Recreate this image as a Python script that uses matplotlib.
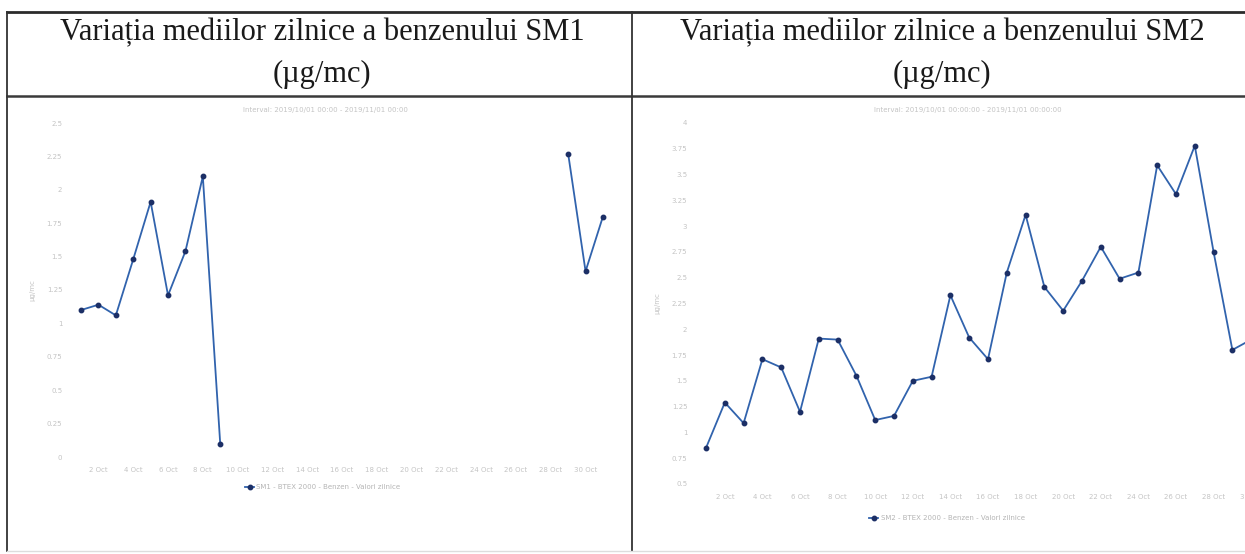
import numpy as np
import matplotlib
matplotlib.use("Agg")
import matplotlib.pyplot as plt

W, H = 1245, 554

titles = ["Variația mediilor zilnice a benzenului SM1",
          "Variația mediilor zilnice a benzenului SM2"]
unit_line = "(µg/mc)"
subtitle_sm1 = "Interval: 2019/10/01 00:00 - 2019/11/01 00:00"
subtitle_sm2 = "Interval: 2019/10/01 00:00:00 - 2019/11/01 00:00:00"
legend_sm1 = "SM1 - BTEX 2000 - Benzen - Valori zilnice"
legend_sm2 = "SM2 - BTEX 2000 - Benzen - Valori zilnice"
ylabel = "µg/mc"

days_sm1 = list(range(1, 32))
nan = float("nan")
sm1 = [1.10, 1.14, 1.06, 1.48, 1.91, 1.21, 1.54, 2.10, 0.10] + [nan] * 19 + [2.27, 1.39, 1.80]

days_sm2 = list(range(1, 31))
sm2 = [0.85, 1.29, 1.09, 1.71, 1.63, 1.20, 1.91, 1.90, 1.55, 1.12,
       1.16, 1.50, 1.54, 2.33, 1.92, 1.71, 2.55, 3.11, 2.41, 2.18,
       2.47, 2.80, 2.49, 2.55, 3.59, 3.31, 3.78, 2.75, 1.80, 1.90]

xticks = list(range(2, 31, 2))
xticklabels = [f"{d} Oct" for d in xticks]
yticks_sm1 = [0, 0.25, 0.5, 0.75, 1, 1.25, 1.5, 1.75, 2, 2.25, 2.5]
yticks_sm2 = [0.5, 0.75, 1, 1.25, 1.5, 1.75, 2, 2.25, 2.5, 2.75, 3, 3.25, 3.5, 3.75, 4]

LINE = "#3163ad"
MARK = "#1c2f66"
FAINT = "#c4c4c4"


def fx(x):
    return x / W


def fy(y):
    return 1 - y / H


def axes_px(fig, left, top, right, bottom):
    return fig.add_axes([fx(left), fy(bottom), (right - left) / W, (bottom - top) / H])


fig = plt.figure(figsize=(W / 100, H / 100), dpi=100)
fig.patch.set_facecolor("white")

# table frame
frame = fig.add_axes([0, 0, 1, 1])
frame.set_xlim(0, W)
frame.set_ylim(H, 0)
frame.axis("off")
frame.plot([7, W], [12, 12], color="#2b2b2b", lw=2)
frame.plot([7, W], [96, 96], color="#3a3a3a", lw=1.8)
frame.plot([7, 7], [12, 551], color="#333333", lw=1.3)
frame.plot([632, 632], [12, 551], color="#333333", lw=1.3)
frame.plot([7, W], [551, 551], color="#dddddd", lw=1)

for cx, t in zip([322, 942], titles):
    frame.text(cx, 33, t, ha="center", va="center", fontsize=22,
               family="Liberation Serif", color="#1a1a1a")
    frame.text(cx, 74, unit_line, ha="center", va="center", fontsize=22,
               family="Liberation Serif", color="#1a1a1a")


def style(ax, yticks):
    for s in ax.spines.values():
        s.set_visible(False)
    ax.set_xticks(xticks)
    ax.set_xticklabels(xticklabels)
    ax.set_yticks(yticks)
    ax.set_yticklabels([f"{v:g}" for v in yticks])
    ax.tick_params(length=0, labelsize=5, labelcolor=FAINT, pad=7)
    ax.patch.set_alpha(0)


# SM1
ax1 = axes_px(fig, 72, 123, 612, 457)
ax1.plot(days_sm1, sm1, color=LINE, lw=1.3, marker="o", ms=3.2,
         mfc=MARK, mec=MARK, label=legend_sm1)
ax1.set_xlim(0.48, 31.52)
ax1.set_ylim(0, 2.5)
style(ax1, yticks_sm1)
ax1.set_ylabel(ylabel, fontsize=5, color=FAINT, labelpad=8)
frame.text(325, 110, subtitle_sm1, ha="center", va="center", fontsize=5, color=FAINT)
ax1.legend(loc="center", bbox_to_anchor=(fx(323), fy(487)), bbox_transform=fig.transFigure,
           frameon=False, fontsize=5, labelcolor="#b5b5b5", handlelength=1.2, handletextpad=0.4)

# SM2 (cut off at the right edge of the scan)
ax2 = axes_px(fig, 697, 123, 1279, 484)
ax2.plot(days_sm2, sm2, color=LINE, lw=1.3, marker="o", ms=3.2,
         mfc=MARK, mec=MARK, label=legend_sm2)
ax2.set_xlim(0.52, 31.48)
ax2.set_ylim(0.5, 4)
style(ax2, yticks_sm2)
ax2.set_ylabel(ylabel, fontsize=5, color=FAINT, labelpad=8)
frame.text(968, 110, subtitle_sm2, ha="center", va="center", fontsize=5, color=FAINT)
ax2.legend(loc="center", bbox_to_anchor=(fx(947), fy(518)), bbox_transform=fig.transFigure,
           frameon=False, fontsize=5, labelcolor="#b5b5b5", handlelength=1.2, handletextpad=0.4)

fig.savefig("out.png", dpi=100)
